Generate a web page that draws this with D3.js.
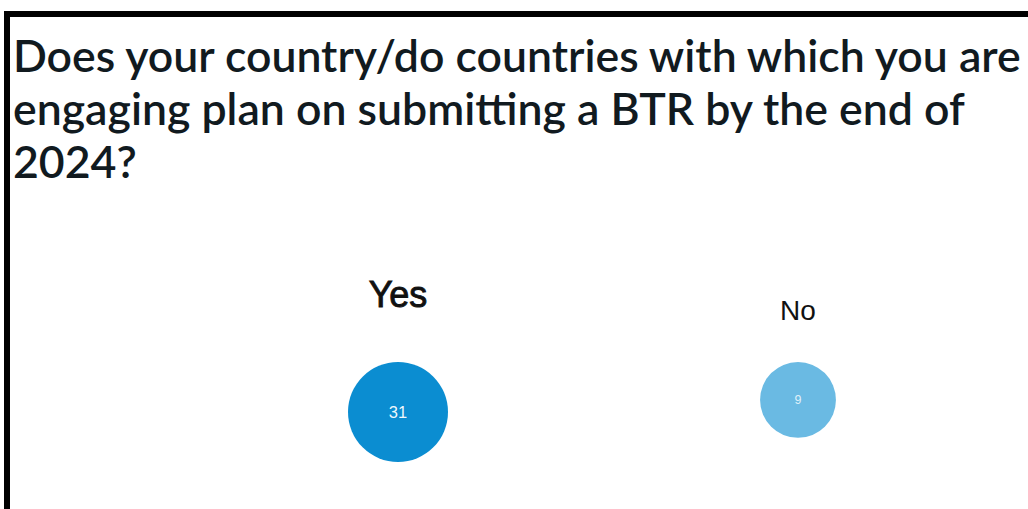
<!DOCTYPE html>
<html>
<head>
<meta charset="utf-8">
<script src="https://cdn.jsdelivr.net/npm/d3@7"></script>
<style>
  html, body { margin: 0; padding: 0; background: #fff; overflow: hidden; }
  svg { display: block; }
</style>
</head>
<body>
<svg id="chart" width="1028" height="509"></svg>
<script>
// Poll question and answers
const titleLines = [
  "Does your country/do countries with which you are",
  "engaging plan on submitting a BTR by the end of",
  "2024?"
];
const categories = ["Yes", "No"];
const counts = [31, 9];
const colors = ["#0b8dd1", "#6abae3"];

const W = 1028, H = 509;
const svg = d3.select("#chart");

// Frame on the top and left edges
svg.append("path")
  .attr("d", d3.line()([[7, H], [7, 14], [W, 14]]))
  .attr("fill", "none")
  .attr("stroke", "#000")
  .attr("stroke-width", 6);

// Title, sized so the first line spans the width
const titleFont = "'Lato', 'Open Sans', sans-serif";
const titleG = svg.append("g").attr("class", "title");
const titleBase = 72, lineGap = 53;
const tl = titleG.selectAll("text")
  .data(titleLines)
  .join("text")
  .attr("x", 13)
  .attr("y", (d, i) => titleBase + i * lineGap)
  .attr("font-family", titleFont)
  .attr("font-weight", 600)
  .attr("font-size", 40)
  .attr("fill", "#111a1f")
  .text(d => d);
const firstW = tl.node().getComputedTextLength();
const fs = 40 * 1008 / firstW;
tl.attr("font-size", fs);

// Bubble layout: size, label size and label weight all grow with the count
const data = categories.map((c, i) => ({ label: c, value: counts[i], color: colors[i] }));
const x = d3.scalePoint().domain(categories).range([398, 798]);
const r = d3.scaleLinear().domain([0, d3.max(counts)]).range([33, 50]);
const labelSize = d3.scaleLinear().domain([9, 31]).range([28, 36]);
const labelStroke = d3.scaleLinear().domain([9, 31]).range([0, 0.9]);
const valueSize = d3.scaleLinear().domain([9, 31]).range([12.5, 16.5]);
const topY = 362;

const g = svg.append("g").selectAll("g")
  .data(data)
  .join("g")
  .attr("transform", d => `translate(${x(d.label)},${topY + r(d.value)})`);

g.append("circle")
  .attr("r", d => r(d.value))
  .attr("fill", d => d.color);

g.append("text")
  .attr("y", d => -2.1 * r(d.value))
  .attr("text-anchor", "middle")
  .attr("font-family", "'Liberation Sans', Arial, sans-serif")
  .attr("font-size", d => labelSize(d.value))
  .attr("fill", "#111")
  .attr("stroke", "#111")
  .attr("stroke-width", d => labelStroke(d.value))
  .text(d => d.label);

g.append("text")
  .attr("dy", "0.35em")
  .attr("text-anchor", "middle")
  .attr("font-family", "'Liberation Sans', Arial, sans-serif")
  .attr("font-size", d => valueSize(d.value))
  .attr("fill", "#fff")
  .attr("fill-opacity", d => d.value === d3.max(counts) ? 0.95 : 0.8)
  .text(d => d.value);
</script>
</body>
</html>
